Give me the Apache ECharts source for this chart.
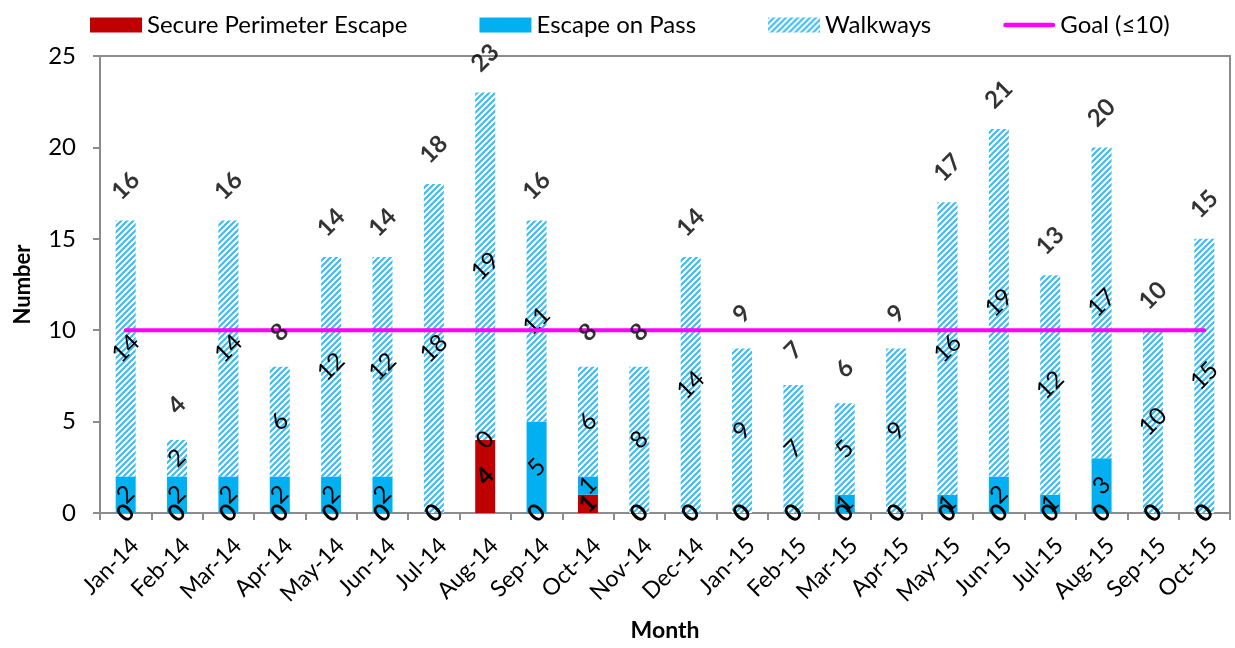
<!DOCTYPE html>
<html>
<head>
<meta charset="utf-8">
<script src="https://cdn.jsdelivr.net/npm/echarts@6/dist/echarts.min.js"></script>
<style>
html,body{margin:0;padding:0;background:#fff;}
#chart{width:1235px;height:648px;}
</style>
</head>
<body>
<div id="chart"></div>
<script>
const months = ['Jan-14','Feb-14','Mar-14','Apr-14','May-14','Jun-14','Jul-14','Aug-14','Sep-14','Oct-14','Nov-14','Dec-14','Jan-15','Feb-15','Mar-15','Apr-15','May-15','Jun-15','Jul-15','Aug-15','Sep-15','Oct-15'];
const securePerimeter = [0,0,0,0,0,0,0,4,0,1,0,0,0,0,0,0,0,0,0,0,0,0];
const escapeOnPass    = [2,2,2,2,2,2,0,0,5,1,0,0,0,0,1,0,1,2,1,3,0,0];
const walkways        = [14,2,14,6,12,12,18,19,11,6,8,14,9,7,5,9,16,19,12,17,10,15];
const goal            = [10,10,10,10,10,10,10,10,10,10,10,10,10,10,10,10,10,10,10,10,10,10];
const yTicks = [0,5,10,15,20,25];

const totals = months.map((m,i)=>securePerimeter[i]+escapeOnPass[i]+walkways[i]);

function hatch(){
  const c = document.createElement('canvas');
  const s = 6;
  c.width = s; c.height = s;
  const g = c.getContext('2d');
  g.fillStyle = '#ffffff';
  g.fillRect(0,0,s,s);
  g.strokeStyle = '#3cbdf1';
  g.lineWidth = 2.2;
  g.beginPath();
  g.moveTo(-1, s+1); g.lineTo(s+1, -1);
  g.moveTo(-1, 1); g.lineTo(1, -1);
  g.moveTo(s-1, s+1); g.lineTo(s+1, s-1);
  g.stroke();
  return c;
}
const hatchFill = {image: hatch(), repeat: 'repeat'};

const FONT = 'Lato';
const innerLabel = (bold) => ({
  show: true, position: 'inside', rotate: 45,
  fontFamily: FONT, fontSize: 24, color: '#000',
  fontWeight: bold ? 'bold' : 'normal',
  align: 'center', verticalAlign: 'middle'
});

const chart = echarts.init(document.getElementById('chart'), null, {renderer:'canvas'});
chart.setOption({
  animation: false,
  backgroundColor: '#fff',
  legend: {
    top: 8, left: 85,
    itemWidth: 52, itemHeight: 15, itemGap: 72,
    textStyle: {fontFamily: FONT, fontSize: 24, color: '#000'},
    data: [
      {name:'Secure Perimeter Escape', icon:'rect'},
      {name:'Escape on Pass', icon:'rect'},
      {name:'Walkways', icon:'rect'},
      {name:'Goal (≤10)', icon:'path://M2.5,0 L52.5,0 A2.5,2.5 0 0 1 52.5,5 L2.5,5 A2.5,2.5 0 0 1 2.5,0 Z'}
    ]
  },
  grid: {left: 100, right: 5, top: 56, bottom: 135, show: true, borderColor: '#8c8c8c', borderWidth: 2,
         containLabel: false, outerBoundsMode: 'none'},
  xAxis: {
    type: 'category', data: months,
    axisLine: {lineStyle: {color: '#8c8c8c', width: 2}},
    axisTick: {show: true, length: 7, lineStyle: {color:'#8c8c8c', width: 2}},
    axisLabel: {rotate: 45, fontFamily: FONT, fontSize: 23, color: '#000', margin: 38, interval: 0,
                padding: [0, -13, 0, 0]},
    name: 'Month', nameLocation: 'middle', nameGap: 106,
    nameTextStyle: {fontFamily: FONT, fontSize: 23, fontWeight: 'bold', color: '#000'}
  },
  yAxis: {
    type: 'value', min: yTicks[0], max: yTicks[yTicks.length-1], interval: yTicks[1]-yTicks[0],
    splitLine: {show: false},
    axisLine: {show: true, lineStyle: {color: '#8c8c8c', width: 2}},
    axisTick: {show: true, length: 7, lineStyle: {color:'#8c8c8c', width: 2}},
    axisLabel: {fontFamily: FONT, fontSize: 24, color: '#000', margin: 24},
    name: 'Number', nameLocation: 'middle', nameGap: 66, nameRotate: 90,
    nameTextStyle: {fontFamily: FONT, fontSize: 22, fontWeight: 'bold', color: '#000'}
  },
  series: [
    {name:'Secure Perimeter Escape', type:'bar', stack:'t', data: securePerimeter, barWidth: 20,
     itemStyle:{color:'#c00000'}, label: innerLabel(true), z: 2},
    {name:'Escape on Pass', type:'bar', stack:'t', data: escapeOnPass, barWidth: 20,
     itemStyle:{color:'#00b0f0'}, label: innerLabel(false), z: 2},
    {name:'Walkways', type:'bar', stack:'t', data: walkways, barWidth: 20,
     itemStyle:{color: hatchFill}, label: innerLabel(false), z: 2},
    {name:'Goal (≤10)', type:'line', data: goal, symbol:'none', showSymbol: false, z: 3,
     lineStyle:{color:'#ff00ff', width: 4, cap:'round'}, itemStyle:{color:'#ff00ff'}},
    {name:'Total', type:'scatter', data: totals, symbolSize: 1, silent: true, z: 5,
     itemStyle:{color:'rgba(0,0,0,0)'},
     label:{show:true, position:'top', distance: 34, rotate: 45, align:'center', verticalAlign:'middle',
            fontFamily: FONT, fontSize: 24, fontWeight:'bold', color:'#000'}}
  ]
});
</script>
</body>
</html>
